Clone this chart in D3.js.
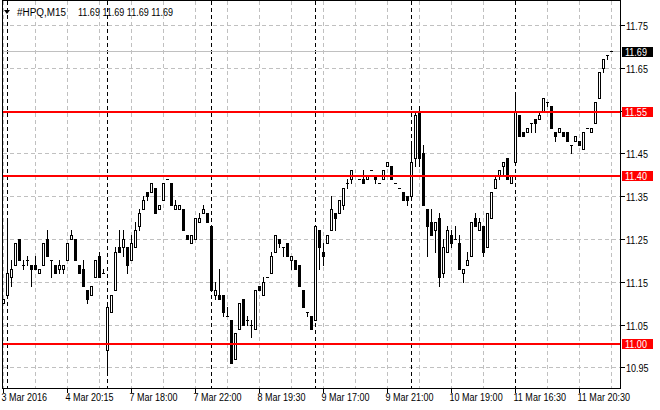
<!DOCTYPE html>
<html><head><meta charset="utf-8">
<script src="https://cdn.jsdelivr.net/npm/d3@7"></script>
<style>
body{margin:0;background:#fff}
svg{display:block}
text{font-family:"Liberation Sans",Arial,sans-serif;font-size:10.5px;fill:#000}
</style>
</head><body>
<svg id="chart" width="660" height="410"></svg>
<script>
// ---- data (M15 bars, HPQ) ----
const opens = [11.10,11.12,11.16,11.19,11.25,11.19,11.20,11.19,11.19,11.17,
11.19,11.25,11.20,11.19,11.18,11.18,11.20,11.25,11.25,11.19,
11.18,11.13,11.12,11.16,11.21,11.17,10.99,11.08,11.13,11.23,
11.23,11.23,11.20,11.23,11.28,11.32,11.36,11.36,11.37,11.32,
11.34,11.39,11.38,11.32,11.32,11.32,11.26,11.24,11.25,11.29,
11.31,11.31,11.28,11.12,11.12,11.12,11.07,11.06,10.97,11.04,
11.11,11.06,11.05,11.04,11.14,11.12,11.16,11.17,11.22,11.25,
11.23,11.24,11.20,11.20,11.19,11.13,11.08,11.07,11.06,11.27,
11.22,11.24,11.27,11.31,11.31,11.33,11.38,11.39,11.40,11.39,
11.39,11.39,11.41,11.40,11.38,11.39,11.42,11.42,11.38,11.37,
11.36,11.35,11.35,11.44,11.55,11.45,11.32,11.29,11.27,11.30,
11.17,11.22,11.26,11.25,11.24,11.17,11.19,11.21,11.30,11.27,
11.28,11.23,11.30,11.37,11.40,11.42,11.44,11.38,11.43,11.54,
11.50,11.50,11.52,11.53,11.53,11.55,11.57,11.56,11.50,11.50,
11.50,11.50,11.47,11.48,11.48,11.46,11.51,11.50,11.52,11.58,
11.65,11.68,11.69];
const highs = [11.11,11.29,11.20,11.24,11.25,11.20,11.21,11.19,11.21,11.18,
11.24,11.27,11.20,11.19,11.20,11.19,11.24,11.27,11.25,11.19,
11.20,11.13,11.14,11.20,11.22,11.18,11.10,11.12,11.23,11.27,
11.27,11.23,11.26,11.29,11.32,11.35,11.36,11.38,11.37,11.33,
11.38,11.39,11.38,11.34,11.33,11.32,11.26,11.26,11.30,11.31,
11.33,11.31,11.28,11.15,11.18,11.12,11.09,11.06,11.03,11.10,
11.11,11.07,11.06,11.13,11.14,11.16,11.16,11.22,11.26,11.25,
11.23,11.24,11.21,11.20,11.19,11.13,11.08,11.07,11.28,11.27,
11.24,11.26,11.35,11.31,11.34,11.37,11.39,11.41,11.40,11.39,
11.41,11.40,11.41,11.40,11.38,11.41,11.43,11.42,11.38,11.37,
11.36,11.35,11.48,11.55,11.56,11.47,11.32,11.32,11.29,11.31,
11.25,11.28,11.27,11.28,11.26,11.18,11.22,11.29,11.31,11.30,
11.28,11.31,11.36,11.40,11.41,11.43,11.44,11.40,11.59,11.54,
11.50,11.51,11.52,11.53,11.55,11.58,11.57,11.56,11.50,11.51,
11.50,11.50,11.47,11.49,11.48,11.50,11.51,11.51,11.57,11.64,
11.67,11.68,11.69];
const lows = [11.10,11.12,11.14,11.19,11.20,11.18,11.19,11.14,11.18,11.17,
11.19,11.21,11.16,11.17,11.17,11.17,11.20,11.25,11.20,11.17,
11.14,11.10,11.12,11.16,11.16,11.17,10.94,11.08,11.13,11.22,
11.21,11.17,11.20,11.23,11.27,11.32,11.34,11.36,11.31,11.32,
11.34,11.39,11.33,11.32,11.32,11.27,11.25,11.24,11.25,11.29,
11.31,11.29,11.13,11.11,11.11,11.07,11.07,10.96,10.97,11.04,
11.05,11.05,11.02,11.04,11.13,11.12,11.16,11.17,11.22,11.23,
11.21,11.21,11.18,11.18,11.14,11.09,11.07,11.04,11.06,11.18,
11.19,11.24,11.27,11.27,11.31,11.32,11.37,11.38,11.40,11.39,
11.38,11.39,11.41,11.38,11.38,11.39,11.42,11.39,11.38,11.37,
11.34,11.33,11.35,11.42,11.42,11.33,11.21,11.26,11.22,11.14,
11.16,11.22,11.23,11.25,11.18,11.15,11.19,11.21,11.28,11.27,
11.21,11.23,11.30,11.37,11.39,11.40,11.39,11.38,11.43,11.49,
11.49,11.50,11.50,11.50,11.53,11.55,11.56,11.51,11.48,11.50,
11.49,11.48,11.45,11.48,11.47,11.46,11.51,11.50,11.52,11.58,
11.64,11.67,11.69];
const closes = [11.11,11.17,11.18,11.24,11.20,11.19,11.20,11.18,11.18,11.18,
11.24,11.21,11.20,11.17,11.19,11.19,11.24,11.26,11.20,11.17,
11.14,11.11,11.14,11.20,11.16,11.17,11.09,11.12,11.22,11.22,
11.25,11.19,11.24,11.27,11.31,11.34,11.35,11.38,11.31,11.33,
11.38,11.39,11.33,11.33,11.33,11.27,11.25,11.26,11.30,11.30,
11.32,11.29,11.13,11.13,11.11,11.08,11.07,10.96,11.03,11.10,
11.05,11.06,11.05,11.13,11.13,11.15,11.16,11.21,11.26,11.24,
11.23,11.21,11.21,11.18,11.14,11.09,11.08,11.04,11.28,11.23,
11.21,11.26,11.32,11.30,11.34,11.37,11.38,11.41,11.40,11.39,
11.38,11.40,11.41,11.39,11.38,11.41,11.43,11.39,11.38,11.37,
11.34,11.34,11.43,11.54,11.44,11.33,11.28,11.26,11.29,11.16,
11.23,11.27,11.24,11.25,11.18,11.18,11.20,11.29,11.28,11.29,
11.22,11.31,11.36,11.39,11.41,11.43,11.39,11.40,11.55,11.49,
11.49,11.51,11.52,11.52,11.54,11.58,11.57,11.51,11.49,11.51,
11.49,11.48,11.47,11.49,11.47,11.50,11.51,11.51,11.57,11.64,
11.67,11.68,11.69];

const timeLabels = ["3 Mar 2016","4 Mar 20:15","7 Mar 18:00","7 Mar 22:00","8 Mar 19:30",
                    "9 Mar 17:00","9 Mar 21:00","10 Mar 19:00","11 Mar 16:30","11 Mar 20:30"];
const labelBars = [0,16,32,48,64,80,96,112,128,144];
const separatorBars = [1,26,52,78,102,128];
const priceTicks = [10.95,11.05,11.15,11.25,11.35,11.45,11.55,11.65,11.75];
const levelLines = [11.55,11.40,11.006];
const levelLabels = ["11.55","11.40","11.00"];
const lastPrice = 11.69;
const symbolTitle = "#HPQ,M15";

// ---- drawing ----
const svg = d3.select("#chart");
const n = opens.length;
const x = d3.scaleLinear().domain([0, n - 1]).range([3, 3 + 4 * (n - 1)]);
const y = d3.scaleLinear().domain([10.95, 11.75]).range([367.3, 25]);
const col = i => Math.round(x(i));
const row = p => Math.round(y(p));
const SX = 0.86;
function txt(sel, tx, ty, s) {
  return sel.append("text").attr("transform", `translate(${tx},${ty}) scale(${SX},1)`).text(s);
}

const L = 2, R = 620, T = 0, B = 388;
const GRID = "#c0c0c0";

// grid
const g = svg.append("g").attr("shape-rendering", "crispEdges");
g.selectAll(".hg").data(priceTicks).join("line")
  .attr("x1", L + 1).attr("x2", R)
  .attr("y1", d => row(d) + 0.5).attr("y2", d => row(d) + 0.5)
  .attr("stroke", GRID).attr("stroke-dasharray", "4,3");
const vgrid = d3.range(0, n, 8).filter(i => !separatorBars.includes(i));
g.selectAll(".vg").data(vgrid).join("line")
  .attr("x1", d => col(d) + 0.5).attr("x2", d => col(d) + 0.5)
  .attr("y1", T + 1).attr("y2", B)
  .attr("stroke", GRID).attr("stroke-dasharray", "4,3");
g.selectAll(".sep").data(separatorBars).join("line")
  .attr("x1", d => col(d) + 0.5).attr("x2", d => col(d) + 0.5)
  .attr("y1", T + 1).attr("y2", B)
  .attr("stroke", "#000").attr("stroke-dasharray", "4,3");

// bid line
g.append("line").attr("x1", L + 1).attr("x2", R)
  .attr("y1", row(lastPrice) + 0.5).attr("y2", row(lastPrice) + 0.5)
  .attr("stroke", GRID);

// candles
const idx = d3.range(n);
const cg = svg.append("g").attr("shape-rendering", "crispEdges");
cg.selectAll(".wick").data(idx).join("line")
  .attr("x1", i => col(i) + 0.5).attr("x2", i => col(i) + 0.5)
  .attr("y1", i => row(highs[i])).attr("y2", i => row(lows[i]) + 1)
  .attr("stroke", "#000");
idx.forEach(i => {
  const c = col(i);
  const top = row(Math.max(opens[i], closes[i]));
  const bot = row(Math.min(opens[i], closes[i]));
  if (top === bot) {
    cg.append("line").attr("x1", c - 1).attr("x2", c + 2)
      .attr("y1", top + 0.5).attr("y2", top + 0.5).attr("stroke", "#000");
  } else if (closes[i] > opens[i]) {
    cg.append("rect").attr("x", c - 0.5).attr("y", top + 0.5)
      .attr("width", 2).attr("height", bot - top)
      .attr("fill", "#fff").attr("stroke", "#000");
  } else {
    cg.append("rect").attr("x", c - 1).attr("y", top)
      .attr("width", 3).attr("height", bot - top + 1).attr("fill", "#000");
  }
});

// horizontal level lines
const lg = svg.append("g").attr("shape-rendering", "crispEdges");
lg.selectAll("rect").data(levelLines).join("rect")
  .attr("x", L + 1).attr("width", R - L - 1)
  .attr("y", d => row(d)).attr("height", 2).attr("fill", "#ff0000");

// frame
svg.append("rect").attr("x", L + 0.5).attr("y", T + 0.5)
  .attr("width", R - L).attr("height", B - T)
  .attr("fill", "none").attr("stroke", "#000").attr("shape-rendering", "crispEdges");

// right axis
const ag = svg.append("g").attr("shape-rendering", "crispEdges");
ag.selectAll(".rt").data(priceTicks).join("line")
  .attr("x1", R + 1).attr("x2", R + 5)
  .attr("y1", d => row(d) + 0.5).attr("y2", d => row(d) + 0.5).attr("stroke", "#000");
priceTicks.forEach(p => txt(svg, R + 6, row(p) + 4.5, p.toFixed(2)));

// price boxes
const boxes = [{v: lastPrice, s: lastPrice.toFixed(2), c: "#000"}]
  .concat(levelLines.map((v, k) => ({v, s: levelLabels[k], c: "#ff0000"})));
boxes.forEach(b => {
  const r = row(b.v);
  svg.append("rect").attr("x", R + 2).attr("y", r - 4).attr("width", 31).attr("height", 10)
    .attr("fill", b.c).attr("shape-rendering", "crispEdges");
  txt(svg, R + 5, r + 5, b.s).style("fill", "#fff");
});

// bottom axis
ag.selectAll(".bt").data(labelBars).join("line")
  .attr("x1", d => col(d) + 0.5).attr("x2", d => col(d) + 0.5)
  .attr("y1", B + 1).attr("y2", B + 5).attr("stroke", "#000");
labelBars.forEach((d, k) => txt(svg, col(d) - 1.5, 401, timeLabels[k]));

// header
svg.append("path").attr("d", "M4,10 L10,10 L7,14 Z").attr("fill", "#000");
txt(svg, 17, 15.5, symbolTitle).style("font-size", "11.5px");
txt(svg, 78, 15.5, [opens[n - 1], highs[n - 1], lows[n - 1], closes[n - 1]].map(v => v.toFixed(2)).join(" "));
</script>
</body></html>
